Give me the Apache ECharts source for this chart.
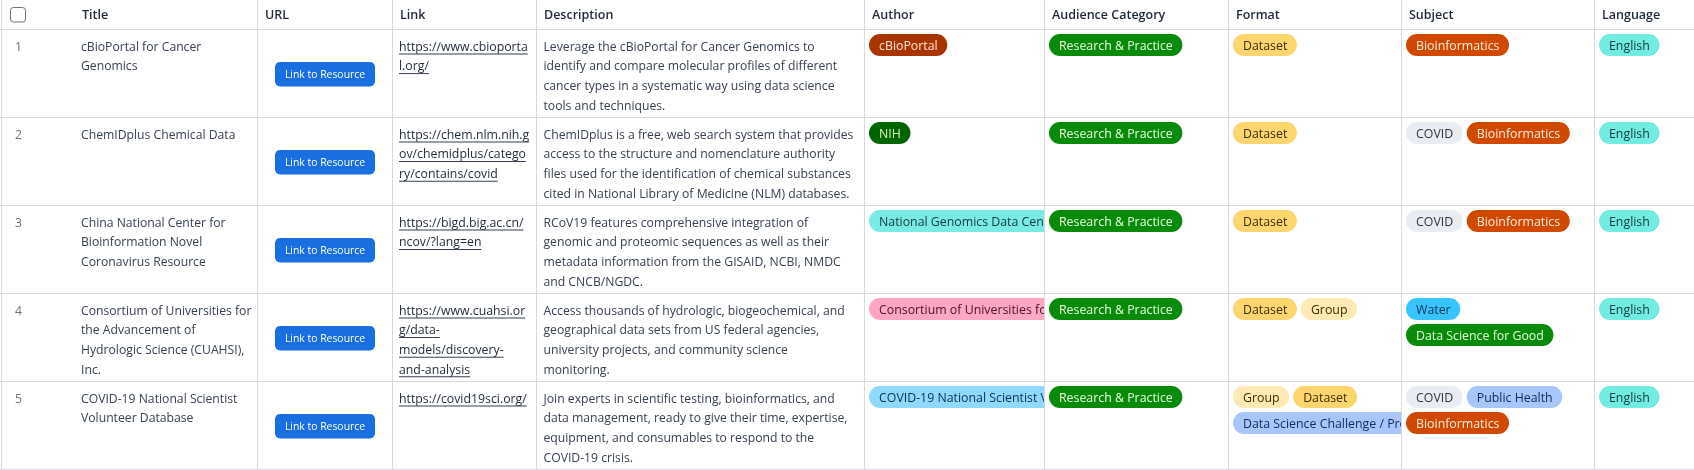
<!DOCTYPE html>
<html>
<head>
<meta charset="utf-8">
<style>html,body{margin:0;padding:0;background:#fff}#c{width:1694px;height:470px}</style>
<script src="https://cdn.jsdelivr.net/npm/echarts@6/dist/echarts.min.js"></script>
</head>
<body>
<div id="c"></div>
<script>
// ---- table content ----
const headers = ['Title','URL','Link','Description','Author','Audience Category','Format','Subject','Language'];
const rowNumbers = ['1','2','3','4','5'];
const titles = [
  ['cBioPortal for Cancer','Genomics'],
  ['ChemIDplus Chemical Data'],
  ['China National Center for','Bioinformation Novel','Coronavirus Resource'],
  ['Consortium of Universities for','the Advancement of','Hydrologic Science (CUAHSI),','Inc.'],
  ['COVID-19 National Scientist','Volunteer Database']
];
const buttonLabel = 'Link to Resource';
const links = [
  ['https://www.cbioporta','l.org/'],
  ['https://chem.nlm.nih.g','ov/chemidplus/catego','ry/contains/covid'],
  ['https://bigd.big.ac.cn/','ncov/?lang=en'],
  ['https://www.cuahsi.or','g/data-','models/discovery-','and-analysis'],
  ['https://covid19sci.org/']
];
const descriptions = [
  ['Leverage the cBioPortal for Cancer Genomics to','identify and compare molecular profiles of different','cancer types in a systematic way using data science','tools and techniques.'],
  ['ChemIDplus is a free, web search system that provides','access to the structure and nomenclature authority','files used for the identification of chemical substances','cited in National Library of Medicine (NLM) databases.'],
  ['RCoV19 features comprehensive integration of','genomic and proteomic sequences as well as their','metadata information from the GISAID, NCBI, NMDC','and CNCB/NGDC.'],
  ['Access thousands of hydrologic, biogeochemical, and','geographical data sets from US federal agencies,','university projects, and community science','monitoring.'],
  ['Join experts in scientific testing, bioinformatics, and','data management, ready to give their time, expertise,','equipment, and consumables to respond to the','COVID-19 crisis.']
];
const authors = [
  [['cBioPortal']],[['NIH']],[['National Genomics Data Center']],
  [['Consortium of Universities for the Advancement of Hydrologic Science']],
  [['COVID-19 National Scientist Volunteer Database']]
];
const audiences = [
  [['Research & Practice']],[['Research & Practice']],[['Research & Practice']],[['Research & Practice']],[['Research & Practice']]
];
const formats = [
  [['Dataset']],[['Dataset']],[['Dataset']],[['Dataset','Group']],
  [['Group','Dataset'],['Data Science Challenge / Project']]
];
const subjects = [
  [['Bioinformatics']],[['COVID','Bioinformatics']],[['COVID','Bioinformatics']],
  [['Water'],['Data Science for Good']],
  [['COVID','Public Health'],['Bioinformatics']]
];
const languages = [[['English']],[['English']],[['English']],[['English']],[['English']]];

// ---- styles and layout (separate from the content) ----
const FONT = '"Open Sans","Noto Sans",sans-serif';
const tagStyles = {
  'cBioPortal':['#a83400','#ffe6d9'],
  'NIH':['#006400','#d4f7b0'],
  'National Genomics Data Center':['#7aebe4','#12393a'],
  'Consortium of Universities for the Advancement of Hydrologic Science':['#ffa6c4','#4a1026'],
  'COVID-19 National Scientist Volunteer Database':['#8fd9ff','#0c2f4a'],
  'Research & Practice':['#0a8a0a','#e6ffe0'],
  'Dataset':['#ffd66e','#3d2c00'],
  'Group':['#ffeab6','#3d2c00'],
  'Data Science Challenge / Project':['#a8c6fa','#102a5c'],
  'Bioinformatics':['#d14900','#ffeede'],
  'COVID':['#e9ecf2','#2f3540'],
  'Public Health':['#a8c6fa','#102a5c'],
  'Water':['#38c4ff','#0c3350'],
  'Data Science for Good':['#0a8a0a','#e6ffe0'],
  'English':['#72ebe0','#0f3b3a']
};
const colEdges = [1,257,392,536,864,1044,1228,1401,1594,1694];
const rowEdges = [29,117,205,293,381,469];
const LINE = '#d6d9de';
const BODY_SIZE = 12.2, LINK_SIZE = 12.3, TAG_SIZE = 12.35, HEAD_SIZE = 12.5, BTN_SIZE = 10.4, LINE_H = 19.6;

const mc = document.createElement('canvas').getContext('2d');
function tw(s,size,weight){ mc.font=(weight||'normal')+' '+size+'px '+FONT; return mc.measureText(s).width; }

function textEl(api,x,y,s,size,fill,opt){
  const p=api.coord([x,y]);
  return {type:'text',style:Object.assign({x:p[0],y:p[1],text:s,font:(opt&&opt.weight||'normal')+' '+size+'px '+FONT,fill:fill,textVerticalAlign:'middle',textBaseline:'middle',textAlign:(opt&&opt.align)||'left'})};
}
function tagsEl(api,col,row,lines){
  const ch=[];
  const x0=colEdges[col]+5, y0=rowEdges[row]+5;
  lines.forEach((line,li)=>{
    let x=x0; const y=y0+li*26;
    line.forEach(t=>{
      const st=tagStyles[t], w=tw(t,TAG_SIZE)+19.6;
      const a=api.coord([x,y]), b=api.coord([x+w,y+22]);
      ch.push({type:'rect',shape:{x:a[0],y:a[1],width:b[0]-a[0],height:b[1]-a[1],r:11},style:{fill:st[0]}});
      ch.push(textEl(api,x+10,y+12.2,t,TAG_SIZE,st[1]));
      x+=w+4;
    });
  });
  const c0=api.coord([colEdges[col],rowEdges[row]]), c1=api.coord([colEdges[col+1],rowEdges[row+1]]);
  return {type:'group',children:ch,clipPath:{type:'rect',shape:{x:c0[0],y:c0[1],width:c1[0]-c0[0],height:c1[1]-c0[1]}}};
}
const tagCols = [[4,authors],[5,audiences],[6,formats],[7,subjects],[8,languages]];

function renderCell(params,api){
  const row=api.value(0), ch=[];
  const top=rowEdges[row];
  const ly=i=>top+18.3+i*LINE_H;
  ch.push(textEl(api,15,ly(0),rowNumbers[row],BODY_SIZE,'#6b7280'));
  titles[row].forEach((s,i)=>ch.push(textEl(api,81,ly(i),s,BODY_SIZE,'#374151')));
  // button
  const a=api.coord([275,top+33]), b=api.coord([375,top+57.5]);
  ch.push({type:'rect',shape:{x:a[0],y:a[1],width:b[0]-a[0],height:b[1]-a[1],r:5},style:{fill:'#1a6fe0'}});
  ch.push(textEl(api,325,top+45.6,buttonLabel,BTN_SIZE,'#ffffff',{align:'center'}));
  // links
  links[row].forEach((s,i)=>{
    ch.push(textEl(api,399,ly(i),s,LINK_SIZE,'#1f2937'));
    const p=api.coord([399,ly(i)+6.2]);
    ch.push({type:'rect',shape:{x:p[0],y:p[1],width:tw(s,LINK_SIZE),height:1},style:{fill:'#374151'}});
  });
  // description
  descriptions[row].forEach((s,i)=>ch.push(textEl(api,543.5,ly(i),s,BODY_SIZE,'#374151')));
  tagCols.forEach(c=>ch.push(tagsEl(api,c[0],row,c[1][row])));
  return {type:'group',children:ch};
}
function renderFrame(params,api){
  const ch=[];
  colEdges.slice(0,-1).forEach(x=>{
    const a=api.coord([x,0]),b=api.coord([x,470]);
    ch.push({type:'rect',shape:{x:a[0],y:a[1],width:1,height:b[1]-a[1]},style:{fill:LINE}});
  });
  rowEdges.forEach(y=>{
    const a=api.coord([0,y]),b=api.coord([1694,y]);
    ch.push({type:'rect',shape:{x:a[0],y:a[1],width:b[0]-a[0],height:1},style:{fill:LINE}});
  });
  // checkbox
  const c=api.coord([10.5,7.5]);
  ch.push({type:'rect',shape:{x:c[0],y:c[1],width:15,height:14.5,r:3},style:{fill:'#fff',stroke:'#6b7280',lineWidth:1}});
  headers.forEach((h,i)=>{
    ch.push(textEl(api,i===0?82:colEdges[i]+8,15.6,h,HEAD_SIZE,'#1f2937',{weight:'600'}));
  });
  return {type:'group',children:ch};
}

const chart=echarts.init(document.getElementById('c'),null,{renderer:'canvas'});
chart.setOption({
  animation:false,
  backgroundColor:'#ffffff',
  grid:{left:0,right:0,top:0,bottom:0},
  xAxis:{type:'value',min:0,max:1694,show:false},
  yAxis:{type:'value',min:0,max:470,inverse:true,show:false},
  series:[
    {type:'custom',coordinateSystem:'cartesian2d',silent:true,clip:false,renderItem:renderFrame,data:[[0]],z:1},
    {type:'custom',coordinateSystem:'cartesian2d',silent:true,clip:false,renderItem:renderCell,data:rowNumbers.map((_,i)=>[i]),z:2}
  ]
});
</script>
</body>
</html>
